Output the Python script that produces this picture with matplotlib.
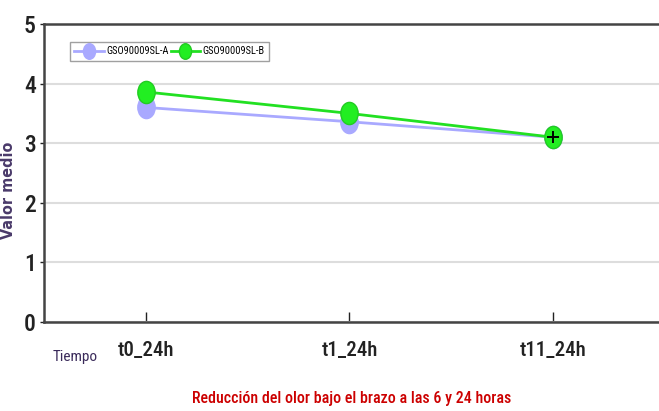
import matplotlib
matplotlib.use("Agg")
import matplotlib.pyplot as plt
from matplotlib.path import Path
from matplotlib.transforms import Affine2D
import numpy as np

categories = ["t0_24h", "t1_24h", "t11_24h"]
series_a = [3.60, 3.36, 3.10]
series_b = [3.86, 3.50, 3.10]
name_a = "GSO90009SL-A"
name_b = "GSO90009SL-B"
yticks = [0, 1, 2, 3, 4, 5]

narrow = ["Roboto Condensed", "DejaVu Sans"]

fig = plt.figure(figsize=(6.59, 4.11), dpi=100)
ax = fig.add_axes([44/659, 1 - 322/411, 1 - 44/659, (322-24)/411])

ellipse = Path.unit_circle().transformed(Affine2D().scale(0.78, 1.0))

x = np.arange(len(categories))
ax.plot(x, series_a, color="#a9a9ff", lw=2, marker=ellipse, ms=16,
        mfc="#a9a9ff", mec="#a9a9ff", label=name_a, zorder=3)
ax.plot(x, series_b, color="#22e022", lw=2, marker=ellipse, ms=16,
        mfc="#22ee22", mec="#22cc22", label=name_b, zorder=4)
ax.plot([x[-1]], [series_b[-1]], marker="+", color="black", ms=8, mew=1.4, zorder=5)

ax.set_xlim(-0.5, 2.52)
ax.set_ylim(0, 5)
ax.set_yticks(yticks)
ax.set_xticks(x)
ax.set_xticklabels(categories, fontfamily=narrow, fontsize=15, fontweight="medium")
ax.set_yticklabels([str(v) for v in yticks], fontfamily=narrow, fontsize=17, fontweight="medium")
ax.tick_params(axis="x", direction="in", length=7, width=1, pad=14, colors="#222222")
ax.tick_params(axis="y", direction="out", length=3, width=1, pad=3, colors="#222222")
for lab in ax.get_xticklabels() + ax.get_yticklabels():
    lab.set_color("#222222")
ax.grid(axis="y", color="#dddddd", lw=1.5)
ax.set_axisbelow(True)
for s in ["left", "bottom", "top"]:
    ax.spines[s].set_color("#444444")
    ax.spines[s].set_linewidth(1.8)
ax.spines["right"].set_visible(False)

leg = ax.legend(loc="upper left", bbox_to_anchor=(21/615, 1 - 13/298), ncol=2,
                prop={"family": narrow, "size": 7.5}, frameon=True, fancybox=False,
                handlelength=2.8, columnspacing=0.2, handletextpad=0.25,
                borderpad=0.4, markerscale=0.7)
leg.get_frame().set_edgecolor("#888888")
leg.get_frame().set_linewidth(1)

fig.text(9/659, 1 - 190/411, "Valor medio", rotation=90, va="center", ha="center",
         fontsize=11.5, fontweight="bold", fontstretch="condensed",
         color="#4a3a6a", family=["DejaVu Sans"])
fig.text(75/659, 1 - 357/411, "Tiempo", va="center", ha="center",
         fontsize=11, color="#3a2a5a", family=narrow)
fig.text(352/659, 1 - 398/411, "Reducción del olor bajo el brazo a las 6 y 24 horas",
         va="center", ha="center", fontsize=11.5, color="#cc0000", family=narrow,
         fontweight="medium")

fig.savefig("out.png", dpi=100)
